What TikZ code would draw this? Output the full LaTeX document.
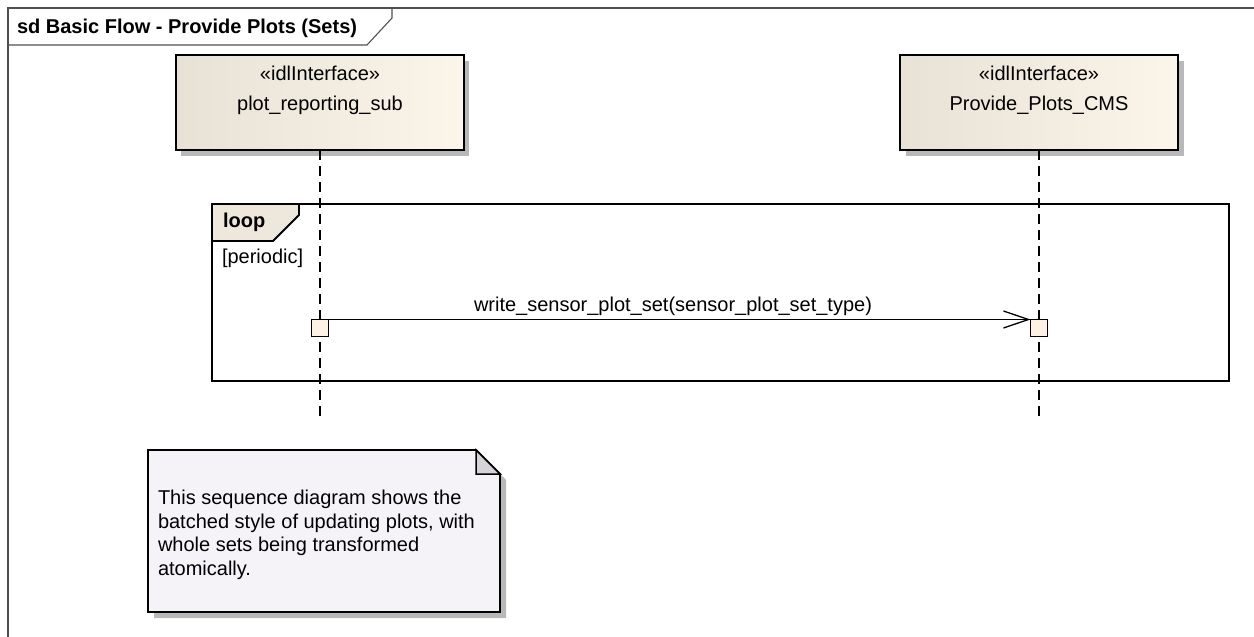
\documentclass[tikz,border=0pt]{standalone}
\usepackage{fontspec}
\setmainfont{Liberation Sans}
\usetikzlibrary{arrows.meta}
\definecolor{framegray}{HTML}{505050}
\definecolor{shadowgray}{HTML}{B8B8B8}
\definecolor{boxleft}{HTML}{E8E1D5}
\definecolor{boxright}{HTML}{FCF5EA}
\definecolor{tabfill}{HTML}{EEE7DB}
\definecolor{actfill}{HTML}{FCF1E3}
\definecolor{notefill}{HTML}{F6F3F8}
\definecolor{earfill}{HTML}{D6D3D8}
\begin{document}
\begin{tikzpicture}[x=1pt,y=-1pt,
  every node/.style={inner sep=0pt,outer sep=0pt,font=\fontsize{20}{24}\selectfont},
  lifebox/.style={draw=black,line width=1.8pt,left color=boxleft,right color=boxright,anchor=north west,minimum height=95pt},
  lifeline/.style={draw=black,line width=1.4pt,dash pattern=on 10pt off 6pt},
  actbox/.style={draw=black,line width=1.5pt,fill=actfill,minimum size=17pt},
  msg/.style={draw=black,line width=1.3pt,-{Straight Barb[length=25pt,width=17pt,line width=1.3pt]}},
  loopframe/.style={draw=black,line width=1.8pt,anchor=north west},
  tabshape/.style={draw=black,line width=1.8pt,fill=tabfill},
  frameline/.style={draw=framegray,line width=1.1pt},
  notebody/.style={draw=black,line width=1.8pt,fill=notefill},
  label/.style={anchor=base},
  boldlabel/.style={anchor=base west,font=\fontsize{20}{24}\selectfont\bfseries},
  notetext/.style={anchor=base west}
]
\useasboundingbox (0,0) rectangle (1254,637);

% outer frame
\draw[frameline] (8,637) -- (8,8) -- (1254,8);
\draw[frameline] (8,45) -- (367,45) -- (392,18) -- (392,8);
\node[boldlabel] (title) at (17,33) {sd Basic Flow - Provide Plots (Sets)};

% lifeline heads
\fill[shadowgray] (181,61) rectangle (469,156);
\node[lifebox,minimum width=288pt] (A) at (176,55) {};
\node[label] (As) at (A.center |- 0,80) {«idlInterface»};
\node[label] (An) at (A.center |- 0,110) {plot\_reporting\_sub};

\fill[shadowgray] (906,61) rectangle (1184,156);
\node[lifebox,minimum width=278pt] (B) at (900,55) {};
\node[label] (Bs) at (B.center |- 0,80) {«idlInterface»};
\node[label] (Bn) at (B.center |- 0,110) {Provide\_Plots\_CMS};

% lifelines
\coordinate (Aend) at (A.south |- 0,421);
\coordinate (Bend) at (B.south |- 0,421);
\draw[lifeline] (A.south) -- (Aend);
\draw[lifeline] (B.south) -- (Bend);

% loop fragment
\node[loopframe,minimum width=1017pt,minimum height=177pt] (L) at (212,204) {};
\draw[tabshape] (L.north west) -- ++(87,0) -- ++(0,11) -- ++(-26,26) -- ++(-61,0) -- cycle;
\node[boldlabel] (looplbl) at (223,227) {loop};
\node[anchor=base west] (guard) at (222,263) {[periodic]};

% activations and message
\node[actbox] (a1) at (A.south |- 0,328) {};
\node[actbox] (a2) at (B.south |- 0,328) {};
\draw[msg] (a1.north east) -- (a2.north west);
\node[label] (mlbl) at (673,311) {write\_sensor\_plot\_set(sensor\_plot\_set\_type)};

% note
\fill[shadowgray] (154,456) -- (482,456) -- (506,480) -- (506,618) -- (154,618) -- cycle;
\draw[notebody] (148,450) -- (476,450) -- (500,474) -- (500,612) -- (148,612) -- cycle;
\draw[draw=black,line width=1.5pt,fill=earfill] (476,450) -- (476,474) -- (500,474) -- cycle;
\node[notetext] (n1) at (158,504) {This sequence diagram shows the};
\node[notetext] (n2) at (158,528) {batched style of updating plots, with};
\node[notetext] (n3) at (158,551) {whole sets being transformed};
\node[notetext] (n4) at (158,575) {atomically.};
\end{tikzpicture}
\end{document}
